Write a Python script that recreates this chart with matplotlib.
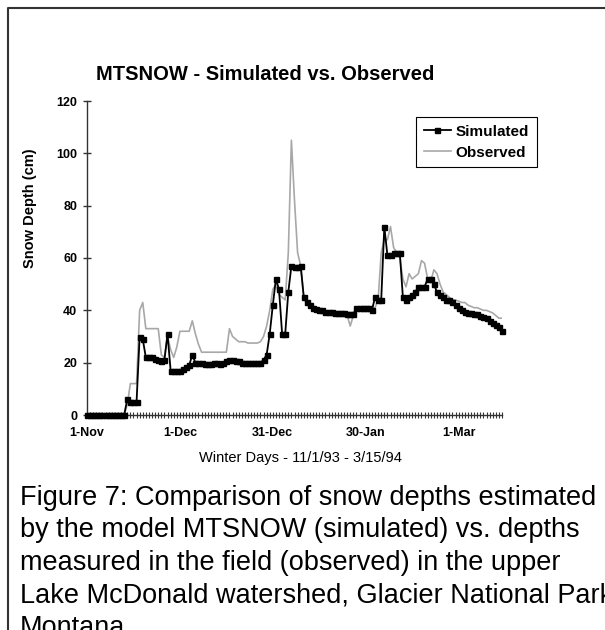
import numpy as np
import matplotlib
matplotlib.use('Agg')
from matplotlib import pyplot as plt
from matplotlib.lines import Line2D

plt.rcParams['font.family'] = ['Liberation Sans', 'DejaVu Sans']

# one value per day, 1 Nov 1993 .. 15 Mar 1994
simulated = [0] * 13 + [
    6, 5, 5, 5, 30, 29, 22, 22, 22, 21.5, 21, 20.5,
    21, 31, 17, 17, 17, 17, 17.5, 18.5, 19,
    23, 20, 20, 20, 19.5, 19.5, 19.5, 20, 20, 19.5, 20, 20.5, 21, 21, 20.5, 20.5,
    20, 20, 20, 20, 20, 20, 20, 21, 23,
    31, 42, 52, 48, 31, 31, 47, 57, 56.5, 56.5, 57, 45, 43, 42, 41, 40.5, 40, 40,
    39.5, 39.5, 39.5, 39, 39, 39, 38.8, 38.6, 38.5, 38.5,
    41, 41, 41, 41, 41, 40, 45, 44, 44, 72, 61, 61, 62, 62, 62, 45, 44, 45, 46,
    47, 49, 49, 49, 52, 52, 50, 47, 46, 45, 44, 44, 43, 42, 41, 40, 39.5, 39, 39,
    38.5, 38.5, 38, 37.5, 37, 36, 35, 34.5, 33.5, 32]
observed = [0] * 13 + [
    4, 12, 12, 12, 40, 43, 33, 33, 33, 33, 33,
    23, 22, 30, 25, 22, 26, 32, 32, 32, 32, 36, 31, 27, 24, 24, 24, 24, 24, 24,
    24, 24, 24, 33, 30, 29, 28, 28, 28, 27.5, 27.5, 27.5, 27.5, 28, 30, 34,
    40, 48, 50, 46, 45, 44, 62, 105, 82, 62, 57, 45, 42, 42, 41, 41, 40, 40,
    39.5, 39.5, 39.5, 39, 39, 39, 38.5, 38, 34, 38,
    40, 41, 41, 41, 41, 40, 41, 44, 62, 67, 67, 72, 64, 62, 60, 52, 49, 54, 52,
    53, 54, 59, 58, 52, 51, 55.5, 54, 50, 47, 46, 45, 44, 44, 43.5, 43, 43, 42,
    41.5, 41, 41, 40.5, 40, 40, 39.5, 39, 38, 37, 37]
date_labels = ['1-Nov', '1-Dec', '31-Dec', '30-Jan', '1-Mar']
label_days = [0, 30, 60, 90, 120]
y_ticks = [0, 20, 40, 60, 80, 100, 120]

days = np.arange(len(simulated))

fig = plt.figure(figsize=(6.05, 6.3), dpi=100)
ax = fig.add_axes([87 / 605, 1 - 415 / 630, 415 / 605, 314 / 630])

ax.plot(days, observed, color='#a8a8a8', lw=1.2, label='Observed', zorder=3)
ax.plot(days, simulated, color='black', lw=1.3, marker='s', ms=3.6,
        label='Simulated', zorder=4, clip_on=False)

ax.set_xlim(0, days[-1])
ax.set_ylim(0, 120)
for s in ['top', 'right']:
    ax.spines[s].set_visible(False)
for s in ['left', 'bottom']:
    ax.spines[s].set_color('#333333')
    ax.spines[s].set_linewidth(1.0)

ax.set_yticks(y_ticks)
ax.set_xticks(label_days)
ax.set_xticklabels(date_labels)
ax.set_xticks(days, minor=True)
ax.tick_params(axis='y', direction='inout', length=6, width=1, color='#333333',
               labelsize=9, pad=4)
ax.tick_params(axis='x', which='both', direction='inout', length=5, width=0.8,
               color='#333333', labelsize=9, pad=6)
for t in ax.get_xticklabels() + ax.get_yticklabels():
    t.set_fontweight('bold')

ax.set_ylabel('Snow Depth (cm)', fontsize=10.5, fontweight='bold')
ax.yaxis.set_label_coords(-0.12, 0.66)

fig.text(265 / 605, 1 - 75 / 630, 'MTSNOW - Simulated vs. Observed',
         ha='center', va='center', fontsize=14.5, fontweight='bold')
fig.text(300 / 605, 1 - 458 / 630, 'Winter Days - 11/1/93 - 3/15/94',
         ha='center', va='center', fontsize=10.5)

handles, labels = ax.get_legend_handles_labels()
leg = fig.legend(handles[::-1], labels[::-1], loc='upper left',
                 bbox_to_anchor=(416 / 605, 1 - 117 / 630), borderaxespad=0,
                 fancybox=False, edgecolor='black', framealpha=1,
                 prop={'weight': 'bold', 'size': 11}, handlelength=1.8,
                 handletextpad=0.3, borderpad=0.5, labelspacing=0.45)
leg.get_frame().set_linewidth(0.8)

caption = ('Figure 7: Comparison of snow depths estimated\n'
           'by the model MTSNOW (simulated) vs. depths\n'
           'measured in the field (observed) in the upper\n'
           'Lake McDonald watershed, Glacier National Park\n'
           'Montana.')
fig.text(20 / 605, 1 - 485 / 630, caption, ha='left', va='top',
         fontsize=19.5, linespacing=1.32)

# border of the figure box
fig.add_artist(Line2D([8 / 605, 8 / 605, 1.0], [0, 1 - 8 / 630, 1 - 8 / 630],
                      color='#333333', lw=1.5))

fig.savefig('out.png', dpi=100)
